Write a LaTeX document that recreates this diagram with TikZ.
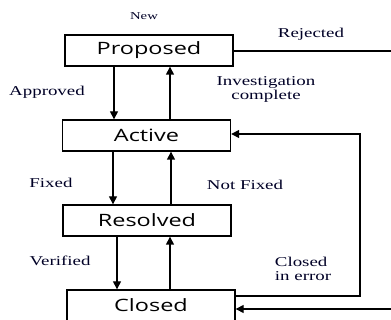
\documentclass[tikz,border=0pt]{standalone}
\usepackage{fontspec}
\usepackage{graphicx}
\setmainfont{Liberation Serif}
\newfontfamily\boxfont{Open Sans}
\usetikzlibrary{arrows.meta}
\newcommand\lblsx[1]{\scalebox{1.4}[1]{#1}}
\newcommand\boxsx[1]{\scalebox{1.38}[1]{#1}}
\tikzset{
  statebox/.style={draw, line width=1.4pt, minimum width=168pt, minimum height=31pt, inner sep=0pt, font=\boxfont\fontsize{17}{20}\selectfont},
  lbl/.style={inner sep=0pt, font=\fontsize{13.5}{15}\selectfont, text=black!85!blue},
  conn/.style={line width=1.4pt},
  arr/.style={conn, -{Triangle[length=8pt,width=8pt]}}
}
\begin{document}
\begin{tikzpicture}[x=1pt,y=-1pt]
\useasboundingbox (0,0) rectangle (391,320);
\clip (0,0) rectangle (391,320);
\node[statebox] (prop) at (149,50.5) {\boxsx{Proposed}};
\node[statebox] (act) at (146.5,135.5) {\boxsx{Active}};
\node[statebox] (res) at (147,220.5) {\boxsx{Resolved}};
\node[statebox] (clo) at (151,305.5) {\boxsx{Closed}};
% vertical transitions
\draw[arr] (prop.south -| 114,0) -- (act.north -| 114,0);
\draw[arr] (act.north -| 170,0) -- (prop.south -| 170,0);
\draw[arr] (act.south -| 113,0) -- (res.north -| 113,0);
\draw[arr] (res.north -| 171,0) -- (act.south -| 171,0);
\draw[arr] (res.south -| 117,0) -- (clo.north -| 117,0);
\draw[arr] (clo.north -| 170,0) -- (res.south -| 170,0);
% rejected
\coordinate (rejout) at (395,51);
\coordinate (rejin) at (395,309);
\draw[conn] (prop.east |- 0,51) -- (rejout);
\draw[arr] (rejin) -- (clo.east |- 0,309);
% closed in error
\coordinate (cie) at (360,296);
\draw[arr] (clo.east |- 0,296) -- (cie) |- (act.east |- 0,134);
% labels
\node[lbl, font=\fontsize{10.5}{12}\selectfont] (lnew) at (144,16) {\lblsx{New}};
\node[lbl] (lrej) at (311,34) {\lblsx{Rejected}};
\node[lbl] (lapp) at (47,92) {\lblsx{Approved}};
\node[lbl] (linv) at (266,89.5) {\lblsx{\begin{tabular}{@{}c@{}}Investigation\\[-1pt]complete\end{tabular}}};
\node[lbl] (lfix) at (51,183) {\lblsx{Fixed}};
\node[lbl] (lnfix) at (245,185) {\lblsx{Not Fixed}};
\node[lbl] (lver) at (60,261) {\lblsx{Verified}};
\node[lbl] (lcie) at (303,270.5) {\lblsx{\begin{tabular}{@{}l@{}}Closed\\[-1pt]in error\end{tabular}}};
\end{tikzpicture}
\end{document}
